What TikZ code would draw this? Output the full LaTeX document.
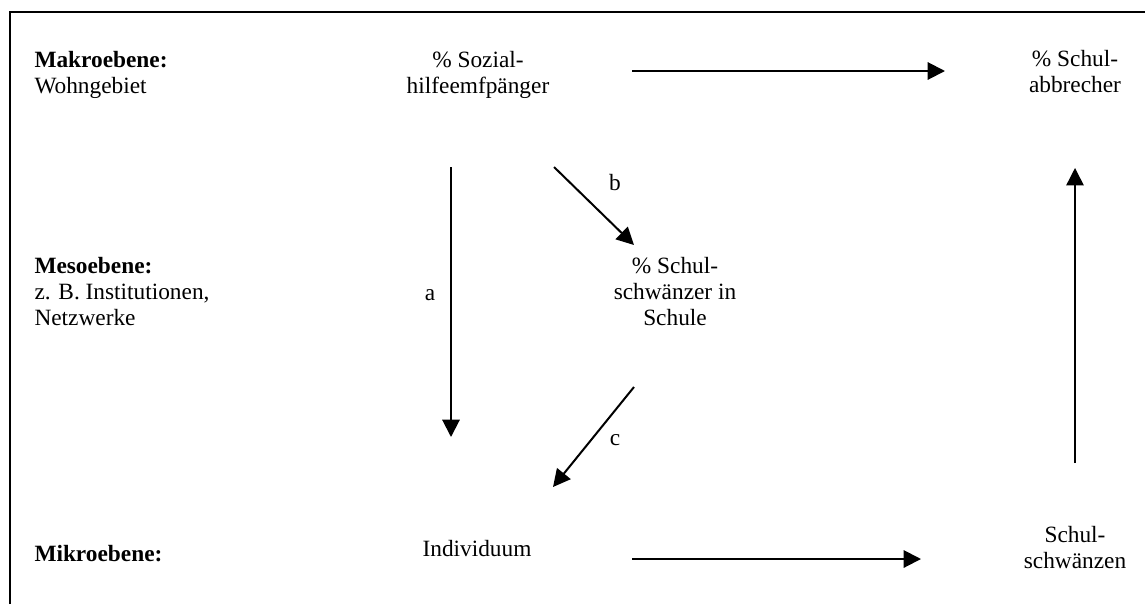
\documentclass[tikz,border=0pt]{standalone}
\usepackage{fontspec}
\setmainfont{Liberation Serif}
\usetikzlibrary{arrows.meta}

\tikzset{every picture/.style={line width=0.75pt}}
\tikzset{
  pfeil/.style={line width=1.5pt,-{Triangle[length=13pt,width=13pt]}},
  ebene/.style={anchor=west,align=left,inner sep=0.75pt,font=\fontsize{17.5}{19.5}\selectfont},
  begriff/.style={align=center,inner sep=0.75pt,font=\fontsize{17.5}{19.5}\selectfont},
  pfad/.style={inner sep=0.75pt,font=\fontsize{17.5}{19.5}\selectfont}
}

\begin{document}
\begin{tikzpicture}[x=0.75pt,y=0.75pt,yscale=-1,xscale=1]
\useasboundingbox (0,0) rectangle (1145,604);

%Shape: Frame
\draw[line width=1.5pt] (10,604) -- (10,12) -- (1145,12);

% Text Node
\node[ebene] (makro) at (33,75) {\textbf{Makroebene:}\\Wohngebiet};
% Text Node
\node[ebene] (meso) at (33,292) {\textbf{Mesoebene:}\\z. B. Institutionen,\\Netzwerke};
% Text Node
\node[ebene,anchor=base west] (mikro) at (33,561) {\textbf{Mikroebene:}};

% Text Node
\node[begriff] (sozial) at (478,75) {\% Sozial-\\hilfeemfpänger};
% Text Node
\node[begriff] (abbrecher) at (1075,72) {\% Schul-\\abbrecher};
% Text Node
\node[begriff] (schwaenzer) at (675,292) {\% Schul-\\schwänzer in\\Schule};
% Text Node
\node[begriff,anchor=base] (individuum) at (477,556) {Individuum};
% Text Node
\node[begriff] (schwaenzen) at (1075,548) {Schul-\\schwänzen};

%Arrow ends
\coordinate (oben1) at (632,71);
\coordinate (oben2) at (945,71);
\coordinate (a1) at (451,167);
\coordinate (a2) at (451,437);
\coordinate (b1) at (554,167);
\coordinate (b2) at (634,245);
\coordinate (c1) at (634,387);
\coordinate (c2) at (553,487);
\coordinate (unten1) at (632,559);
\coordinate (unten2) at (921,559);
\coordinate (rechts1) at (1075,463);
\coordinate (rechts2) at (1075,168);

%Straight Lines
\draw[pfeil] (oben1) -- (oben2);
\draw[pfeil] (a1) -- (a2);
\draw[pfeil] (b1) -- (b2);
\draw[pfeil] (c1) -- (c2);
\draw[pfeil] (unten1) -- (unten2);
\draw[pfeil,line width=1.1pt] (rechts1) -- (rechts2);

% Text Node
\node[pfad] (la) at (430,295) {a};
% Text Node
\node[pfad] (lb) at (615,183) {b};
% Text Node
\node[pfad] (lc) at (615,440) {c};
\end{tikzpicture}
\end{document}
